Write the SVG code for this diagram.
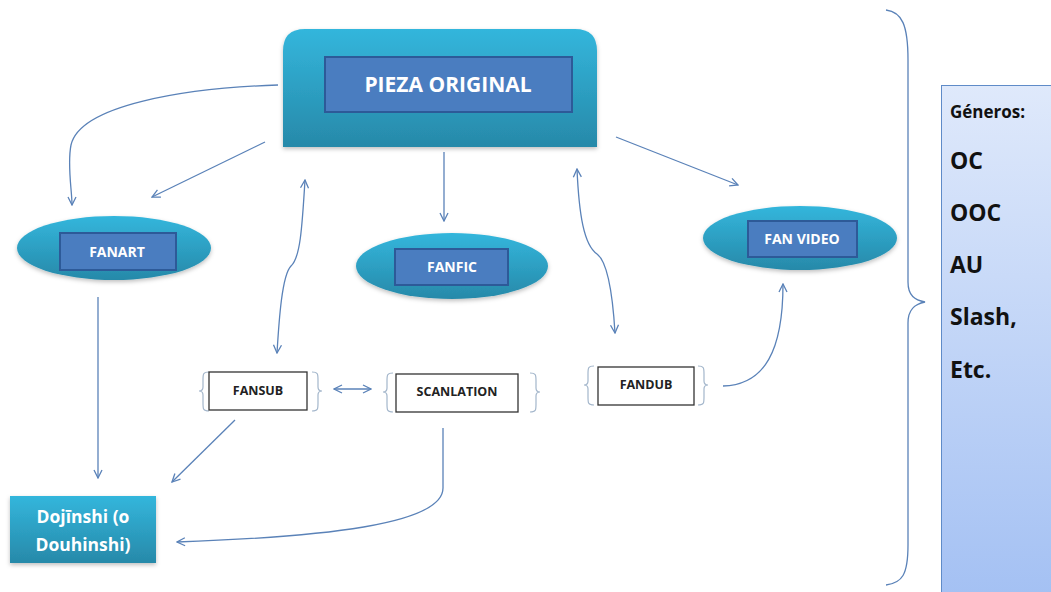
<svg xmlns="http://www.w3.org/2000/svg" width="1051" height="592" viewBox="0 0 1051 592">
<defs>
<linearGradient id="cyan" x1="0" y1="0" x2="0" y2="1">
<stop offset="0" stop-color="#33b6dc"/>
<stop offset="1" stop-color="#2789a9"/>
</linearGradient>
<linearGradient id="gen" x1="0" y1="0" x2="0" y2="1">
<stop offset="0" stop-color="#dfe9fb"/>
<stop offset="1" stop-color="#a3c0f3"/>
</linearGradient>
<filter id="sh" x="-10%" y="-10%" width="120%" height="130%">
<feDropShadow dx="0" dy="2" stdDeviation="2" flood-color="#000" flood-opacity="0.25"/>
</filter>
<marker id="ah" viewBox="0 0 10 10" refX="9" refY="5" markerWidth="10" markerHeight="10" markerUnits="userSpaceOnUse" orient="auto-start-reverse">
<path d="M1,1 L9,5 L1,9" fill="none" stroke="#5a82b8" stroke-width="1.3"/>
</marker>
<style>
.inner{fill:#4a7dc0;stroke:#2d5a98;stroke-width:2}
.wt{fill:#fff;font-family:"Open Sans","Liberation Sans",sans-serif;font-weight:700;text-anchor:middle}
.bt{fill:#222;font-family:"Open Sans","Liberation Sans",sans-serif;font-weight:700;text-anchor:middle;font-size:12.5px}
.box{fill:#fff;stroke:#333;stroke-width:1.3}
.br{fill:none;stroke:#a3b6cb;stroke-width:1.2}
.cn{fill:none;stroke:#5a82b8;stroke-width:1.3}
.gt{fill:#111;font-family:"Open Sans","Liberation Sans",sans-serif;font-weight:700}
</style>
</defs>

<g id="connectors">
<path class="cn" d="M278,85 C185,88 80,105 71,145 C67,165 72,190 72,205" marker-end="url(#ah)"/>
<path class="cn" d="M265,142 L152,197" marker-end="url(#ah)"/>
<path class="cn" d="M444,152 L444,221" marker-end="url(#ah)"/>
<path class="cn" d="M616,137 L738,185" marker-end="url(#ah)"/>
<path class="cn" d="M577,169 C579,215 584,245 597,254 C608,262 613,300 615,333" marker-start="url(#ah)" marker-end="url(#ah)"/>
<path class="cn" d="M305,180 C302,230 300,258 291,266 C282,275 279,320 277,353" marker-start="url(#ah)" marker-end="url(#ah)"/>
<path class="cn" d="M334,389 L371,389" marker-start="url(#ah)" marker-end="url(#ah)"/>
<path class="cn" d="M723,386 C765,385 783,350 783,284" marker-end="url(#ah)"/>
<path class="cn" d="M98,297 L98,478" marker-end="url(#ah)"/>
<path class="cn" d="M235,420 L172,482" marker-end="url(#ah)"/>
<path class="cn" d="M443,428 L443,488 C443,525 320,537 177,542" marker-end="url(#ah)"/>
<path class="cn" stroke-width="1.1" d="M886,10 C902,12 908,25 908,60 L908,282 C908,296 915,300 925,302 C915,304 908,309 908,323 L908,545 C908,575 902,583 886,585"/>
</g>

<g id="pieza">
<path d="M283,147 L283,51 Q283,29 305,29 L575,29 Q597,29 597,51 L597,147 Z" fill="url(#cyan)" filter="url(#sh)"/>
<rect class="inner" x="325" y="57" width="247" height="55"/>
<text class="wt" x="448" y="92" font-size="21">PIEZA ORIGINAL</text>
</g>

<g id="fanart">
<ellipse cx="114" cy="248" rx="97" ry="32" fill="url(#cyan)" filter="url(#sh)"/>
<rect class="inner" x="60" y="233" width="116" height="37"/>
<text class="wt" x="117" y="257" font-size="14">FANART</text>
</g>

<g id="fanfic">
<ellipse cx="452" cy="266" rx="96" ry="33" fill="url(#cyan)" filter="url(#sh)"/>
<rect class="inner" x="395" y="249" width="113" height="36"/>
<text class="wt" x="452" y="272" font-size="14">FANFIC</text>
</g>

<g id="fanvideo">
<ellipse cx="800" cy="238" rx="97" ry="32" fill="url(#cyan)" filter="url(#sh)"/>
<rect class="inner" x="748" y="221" width="109" height="36"/>
<text class="wt" x="802" y="244" font-size="14">FAN VIDEO</text>
</g>

<g id="fansub">
<path class="br" d="M209,372 C203,372 203,374 203,380 L203,387 C203,390 201,391 199,391 C201,391 203,392 203,395 L203,403 C203,409 203,411 209,411"/>
<rect class="box" x="209" y="372" width="98" height="38"/>
<text class="bt" x="258" y="395">FANSUB</text>
<path class="br" d="M312,372 C318,372 318,374 318,380 L318,387 C318,390 320,391 322,391 C320,391 318,392 318,395 L318,403 C318,409 318,411 312,411"/>
</g>

<g id="scanlation">
<path class="br" d="M393,373 C387,373 387,375 387,381 L387,388 C387,391 385,392 383,392 C385,392 387,393 387,396 L387,404 C387,410 387,412 393,412"/>
<rect class="box" x="396" y="374" width="122" height="38"/>
<text class="bt" x="457" y="396">SCANLATION</text>
<path class="br" d="M530,373 C536,373 536,375 536,381 L536,388 C536,391 538,392 540,392 C538,392 536,393 536,396 L536,404 C536,410 536,412 530,412"/>
</g>

<g id="fandub">
<path class="br" d="M594,366 C588,366 588,368 588,374 L588,381 C588,384 586,385 584,385 C586,385 588,386 588,389 L588,397 C588,403 588,405 594,405"/>
<rect class="box" x="598" y="367" width="96" height="38"/>
<text class="bt" x="646" y="389">FANDUB</text>
<path class="br" d="M698,366 C704,366 704,368 704,374 L704,381 C704,384 706,385 708,385 C706,385 704,386 704,389 L704,397 C704,403 704,405 698,405"/>
</g>

<g id="dojinshi">
<rect x="10" y="496" width="146" height="67" fill="url(#cyan)" filter="url(#sh)"/>
<text class="wt" x="83" y="523" font-size="17.5">Dojīnshi (o</text>
<text class="wt" x="83" y="551" font-size="17.5">Douhinshi)</text>
</g>

<g id="generos">
<rect x="941.5" y="85.5" width="115" height="520" fill="url(#gen)" stroke="#5f8bc8" stroke-width="1"/>
<text class="gt" x="950" y="118" font-size="17">Géneros:</text>
<text class="gt" x="950" y="169" font-size="23">OC</text>
<text class="gt" x="950" y="221" font-size="23">OOC</text>
<text class="gt" x="950" y="273" font-size="23">AU</text>
<text class="gt" x="950" y="325" font-size="23">Slash,</text>
<text class="gt" x="950" y="378" font-size="23">Etc.</text>
</g>
</svg>
